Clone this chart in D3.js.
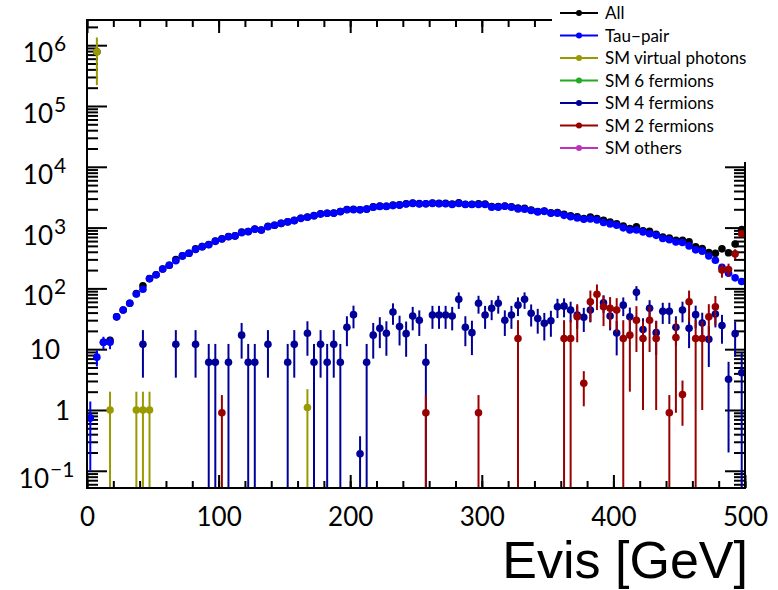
<!DOCTYPE html>
<html>
<head>
<meta charset="utf-8">
<script src="https://cdn.jsdelivr.net/npm/d3@7"></script>
<style>
  body { margin: 0; background: #fff; }
  svg { display: block; }
</style>
</head>
<body>
<svg width="778" height="590"></svg>
<script>
// histogram: Evis, 100 bins of 5 GeV from 0 to 500
var nBins = 100, binWidth = 5;
var binCenters = d3.range(nBins).map(function(i){ return binWidth * i + binWidth / 2; });

var xTicks = [0, 100, 200, 300, 400, 500];
var yTicks = [0.1, 1, 10, 100, 1e3, 1e4, 1e5, 1e6];

var seriesNames = ["All", "Tau\u2212pair", "SM virtual photons", "SM 6 fermions",
                   "SM 4 fermions", "SM 2 fermions", "SM others"];
var seriesColors = ["#000000", "#0000ff", "#999900", "#22aa22", "#000099", "#990000", "#bb33bb"];

var allVals = [0.74, 780007, 13, 14, 34, 44, 57, 82, 110, 145,
  168, 208, 240, 297, 342, 378, 449, 486, 528, 600,
  655, 714, 730, 843, 864, 946, 915, 1047, 1090, 1172,
  1246, 1312, 1420, 1494, 1571, 1682, 1726, 1732, 1836, 1983,
  1997, 1960, 2016, 2187, 2252, 2248, 2341, 2364, 2468, 2535,
  2480, 2467, 2537, 2497, 2497, 2435, 2566, 2423, 2419, 2458,
  2437, 2217, 2227, 2270, 2207, 2098, 2076, 1949, 1842, 1877,
  1749, 1770, 1656, 1569, 1510, 1406, 1494, 1410, 1318, 1232,
  1153, 1060, 966, 1031, 886, 867, 779, 702, 673, 619,
  616, 582, 482, 452, 388, 378, 447, 385, 537, 924];

var tauVals = [0.74, 7.4, 13, 13, 34, 44, 57, 81, 97, 144,
  168, 208, 240, 285, 342, 378, 437, 486, 522, 594,
  648, 708, 730, 826, 858, 940, 915, 1035, 1090, 1172,
  1240, 1300, 1420, 1475, 1565, 1670, 1720, 1720, 1830, 1960,
  1960, 1960, 2010, 2170, 2230, 2230, 2300, 2340, 2450, 2500,
  2450, 2460, 2500, 2460, 2460, 2400, 2500, 2400, 2400, 2400,
  2400, 2170, 2170, 2240, 2170, 2030, 2010, 1910, 1810, 1850,
  1720, 1720, 1590, 1510, 1440, 1370, 1390, 1330, 1210, 1150,
  1090, 990, 915, 915, 850, 790, 745, 660, 630, 580,
  570, 500, 430, 410, 340, 290, 222, 177, 149, 130];
// only the first bins have visible error bars
var tauErr = [0.64, 2.2, 3, 3];

var vphotVals = [0, 7.8e5, 0, 1, 0, 0, 0, 1, 1, 1,
  0, 0, 0, 0, 0, 0, 0, 0, 0, 0,
  0, 0, 0, 0, 0, 0, 0, 0, 0, 0,
  0, 0, 0, 1.1];
var vphotErr = [0, 5.6e5, 0, 1, 0, 0, 0, 1, 1, 1,
  0, 0, 0, 0, 0, 0, 0, 0, 0, 0,
  0, 0, 0, 0, 0, 0, 0, 0, 0, 0,
  0, 0, 0, 1.1];

var fourFVals = [0, 0, 0, 0, 0, 0, 0, 0, 12, 0,
  0, 0, 0, 12, 0, 0, 12, 0, 6.1, 6.1,
  0, 6.1, 0, 17, 6.1, 6.1, 0, 12, 0, 0,
  6.1, 12, 0, 18.3, 6.1, 12, 6.1, 12, 6.1, 23,
  37, 0.19, 6.1, 17, 22, 18.3, 41, 23.5, 18, 35,
  30, 6.1, 36.6, 36.6, 36.6, 35, 66, 23, 18.7, 57,
  36.6, 47, 57, 30, 36.6, 53, 66, 39, 32, 26.7,
  29.4, 50, 51, 44, 36.6, 33.5, 44, 0, 58, 35,
  18.5, 53, 34, 86, 21, 47, 18.7, 42, 42, 23,
  44, 22, 37, 27, 14.5, 38, 24.5, 3.2, 18, 4.1];
var fourFErr = [0, 0, 0, 0, 0, 0, 0, 0, 8.6, 0,
  0, 0, 0, 8.6, 0, 0, 8.6, 0, 6.1, 6.1,
  0, 6.1, 0, 10, 6.1, 6.1, 0, 8.6, 0, 0,
  6.1, 8.6, 0, 10.5, 6.1, 8.6, 6.1, 8.6, 6.1, 11.8,
  15, 0.18, 6.1, 10, 11.6, 10.5, 15.8, 12, 10.5, 14.6,
  13.5, 6.1, 15, 15, 15, 14.6, 20, 11.8, 10.7, 18.6,
  15, 17, 18.6, 13.5, 15, 18, 20, 15.4, 14, 12.8,
  13.4, 17.5, 17.6, 16.4, 15, 14.3, 16.4, 0, 18.8, 14.6,
  10.6, 18, 14.4, 23, 11.3, 17, 10.7, 16, 16, 11.8,
  16.4, 11.6, 15, 12.8, 9.4, 15.2, 12.2, 3.0, 10.5, 4.6];

var twoFVals = [0, 0, 0, 0, 0, 0, 0, 0, 0, 0,
  0, 0, 0, 0, 0, 0, 0, 0, 0, 0,
  0.9, 0, 0, 0, 0, 0, 0, 0, 0, 0,
  0, 0, 0, 0, 0, 0, 0, 0, 0, 0,
  0, 0, 0, 0, 0, 0, 0, 0, 0, 0,
  0, 0.9, 0, 0, 0, 0, 0, 0, 0, 0.9,
  0, 0, 0, 0, 0, 15, 0, 0, 0, 0,
  0, 0, 15, 15, 34, 2.75, 60, 80, 50, 47,
  44, 15, 17, 30, 15, 30, 15, 0, 0.9, 15.6,
  1.8, 60, 15, 15, 34, 50, 200, 205, 370, 790];
var twoFErr = [0, 0, 0, 0, 0, 0, 0, 0, 0, 0,
  0, 0, 0, 0, 0, 0, 0, 0, 0, 0,
  0.86, 0, 0, 0, 0, 0, 0, 0, 0, 0,
  0, 0, 0, 0, 0, 0, 0, 0, 0, 0,
  0, 0, 0, 0, 0, 0, 0, 0, 0, 0,
  0, 0.86, 0, 0, 0, 0, 0, 0, 0, 0.86,
  0, 0, 0, 0, 0, 15, 0, 0, 0, 0,
  0, 0, 15, 15, 21, 1.6, 32, 36, 26, 25,
  25, 15, 15, 21, 14, 21, 14, 0, 0.86, 14.7,
  1.25, 32, 15, 14, 21, 25, 50, 50, 70, 95];

var svg = d3.select("svg"),
    width = +svg.attr("width"),
    height = +svg.attr("height");

var frame = {left: 87, right: 745, top: 20, bottom: 488};

var x = d3.scaleLinear().domain([0, 500]).range([frame.left, frame.right]);
var y = d3.scaleLog().domain([0.0521, 2.596e6]).range([frame.bottom, frame.top]);

var labelFont = "Lato, 'Noto Sans', sans-serif";

// minor tick values on the log axis
var yMinor = [];
d3.range(-2, 7).forEach(function(k){
  d3.range(2, 10).forEach(function(m){
    var v = m * Math.pow(10, k);
    if (v > y.domain()[0] && v < y.domain()[1]) yMinor.push(v);
  });
});
var xMinor = d3.range(0, 501, 20);

function styleAxis(g){
  g.select(".domain").remove();
  g.selectAll(".tick line").attr("stroke", "#000").attr("stroke-width", 2);
}

// ticks, all pointing into the frame (ROOT style, mirrored on top and right)
svg.append("g").attr("transform", "translate(0," + frame.bottom + ")")
  .call(d3.axisBottom(x).tickValues(xMinor).tickSize(-7).tickFormat(""))
  .call(styleAxis);
svg.append("g").attr("transform", "translate(0," + frame.bottom + ")")
  .call(d3.axisBottom(x).tickValues(xTicks).tickSize(-13).tickPadding(20).tickFormat(d3.format("d")))
  .call(styleAxis)
  .call(function(g){
    g.selectAll("text").attr("font-family", labelFont).attr("font-size", 26).attr("fill", "#000");
  });
svg.append("g").attr("transform", "translate(0," + frame.top + ")")
  .call(d3.axisTop(x).tickValues(xMinor).tickSize(-7).tickFormat(""))
  .call(styleAxis);
svg.append("g").attr("transform", "translate(0," + frame.top + ")")
  .call(d3.axisTop(x).tickValues(xTicks).tickSize(-13).tickFormat(""))
  .call(styleAxis);

svg.append("g").attr("transform", "translate(" + frame.left + ",0)")
  .call(d3.axisLeft(y).tickValues(yMinor).tickSize(-11).tickFormat(""))
  .call(styleAxis);
svg.append("g").attr("transform", "translate(" + frame.left + ",0)")
  .call(d3.axisLeft(y).tickValues(yTicks).tickSize(-20).tickFormat(""))
  .call(styleAxis);
svg.append("g").attr("transform", "translate(" + frame.right + ",0)")
  .call(d3.axisRight(y).tickValues(yMinor).tickSize(-11).tickFormat(""))
  .call(styleAxis);
svg.append("g").attr("transform", "translate(" + frame.right + ",0)")
  .call(d3.axisRight(y).tickValues(yTicks).tickSize(-20).tickFormat(""))
  .call(styleAxis);

// y labels, 10^n written with a superscript
var yLab = svg.append("g").attr("font-family", labelFont).attr("fill", "#000");
yTicks.forEach(function(v){
  var n = Math.round(Math.log10(v)), ty = y(v);
  if (n === 0 || n === 1) {
    yLab.append("text").attr("x", n === 0 ? 70 : 60).attr("y", ty + 10)
      .attr("text-anchor", "end").attr("font-size", 26).text(n === 0 ? "1" : "10");
  } else {
    var xe = n < 0 ? 49 : 53;
    yLab.append("text").attr("x", xe).attr("y", ty + 17)
      .attr("text-anchor", "end").attr("font-size", 26).text("10");
    yLab.append("text").attr("x", xe + 1).attr("y", ty + 6)
      .attr("font-size", 21).text(n < 0 ? "\u2212" + (-n) : n);
  }
});

// error bars + markers for one series
var yLo = y.domain()[0], yHi = y.domain()[1];
function drawSeries(vals, errs, color){
  var pts = [];
  vals.forEach(function(v, i){ if (v > 0) pts.push({x: binCenters[i], v: v, e: errs[i] || 0}); });
  var g = svg.append("g");
  g.selectAll("line").data(pts.filter(function(d){ return d.e > 0; })).enter()
    .append("line")
      .attr("x1", function(d){ return x(d.x); })
      .attr("x2", function(d){ return x(d.x); })
      .attr("y1", function(d){ return y(Math.min(d.v + d.e, yHi)); })
      .attr("y2", function(d){ return d.v - d.e > yLo ? y(d.v - d.e) : frame.bottom; })
      .attr("stroke", color).attr("stroke-width", 2);
  g.selectAll("circle").data(pts.filter(function(d){ return d.v > yLo; })).enter()
    .append("circle")
      .attr("cx", function(d){ return x(d.x); })
      .attr("cy", function(d){ return y(d.v); })
      .attr("r", 3.8)
      .attr("fill", color);
}

drawSeries(allVals, [], seriesColors[0]);
drawSeries(tauVals, tauErr, seriesColors[1]);
drawSeries(vphotVals, vphotErr, seriesColors[2]);
drawSeries(fourFVals, fourFErr, seriesColors[4]);
drawSeries(twoFVals, twoFErr, seriesColors[5]);

// frame
svg.append("rect")
  .attr("x", frame.left).attr("y", frame.top)
  .attr("width", frame.right - frame.left).attr("height", frame.bottom - frame.top)
  .attr("fill", "none").attr("stroke", "#000").attr("stroke-width", 2);

// legend (white box over the top right corner of the frame)
var leg = svg.append("g");
leg.append("rect").attr("x", 552).attr("y", 0).attr("width", 226).attr("height", 162).attr("fill", "#fff");
var rows = leg.selectAll("g.row").data(seriesNames).enter().append("g")
  .attr("transform", function(d, i){ return "translate(0," + (13 + i * 22.5) + ")"; });
rows.append("line").attr("x1", 560).attr("x2", 598).attr("y1", 0).attr("y2", 0)
  .attr("stroke", function(d, i){ return seriesColors[i]; }).attr("stroke-width", 2);
rows.append("circle").attr("cx", 579).attr("cy", 0).attr("r", 3)
  .attr("fill", function(d, i){ return seriesColors[i]; });
rows.append("text").attr("x", 605).attr("y", 6)
  .attr("font-family", labelFont).attr("font-size", 17).attr("fill", "#000")
  .text(function(d){ return d; });

// axis title
svg.append("text").attr("x", 748).attr("y", 578).attr("text-anchor", "end")
  .attr("font-family", "'Liberation Sans', Arial, sans-serif").attr("font-size", 52)
  .text("Evis [GeV]");
</script>
</body>
</html>
